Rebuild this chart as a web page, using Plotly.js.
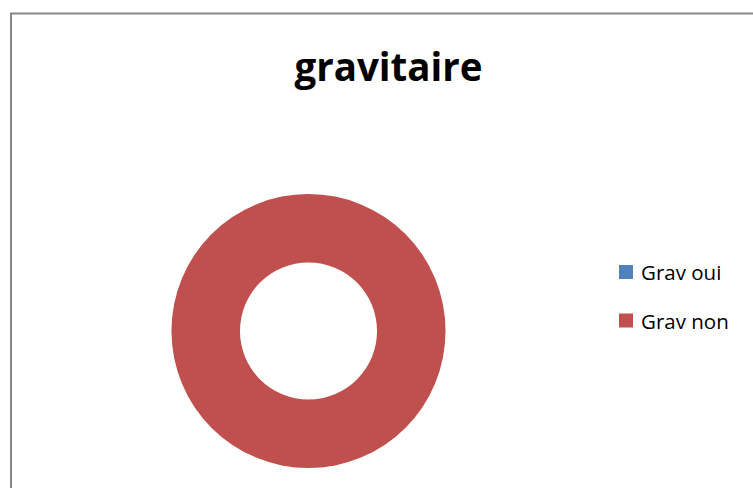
<!DOCTYPE html>
<html>
<head>
<meta charset="utf-8">
<script src="https://cdn.plot.ly/plotly-3.0.1.min.js"></script>
<style>html,body{margin:0;padding:0;background:#fff;}#chart{width:753px;height:488px;}</style>
</head>
<body>
<div id="chart"></div>
<script>
const chartTitle = "gravitaire";
const labels = ["Grav oui", "Grav non"];
const values = [0, 100];
const colors = ["#4F81BD", "#C0504D"];

const W = 753, H = 488;
// pie geometry in pixels
const cx = 308.5, cy = 331, R = 137;

const trace = {
  type: "pie",
  labels: labels,
  values: values,
  hole: 0.5,
  sort: false,
  direction: "clockwise",
  textinfo: "none",
  hoverinfo: "label+value",
  marker: {colors: colors, line: {width: 0}},
  showlegend: false,
  domain: {
    x: [(cx - R) / W, (cx + R) / W],
    y: [(H - cy - R) / H, (H - cy + R) / H]
  }
};

const shapes = [{
  type: "rect", xref: "paper", yref: "paper",
  x0: 11 / W, x1: 1.01, y0: -0.01, y1: 1 - 13.5 / H,
  line: {color: "#878787", width: 2}, fillcolor: "rgba(0,0,0,0)", layer: "below"
}];
const annotations = [];
const legendX = 619, legendTop = 272, legendGap = 48.5, sq = 14;
labels.forEach((lab, i) => {
  const yc = legendTop + i * legendGap;
  shapes.push({
    type: "rect", xref: "paper", yref: "paper",
    x0: legendX / W, x1: (legendX + sq) / W,
    y0: 1 - (yc + sq / 2) / H, y1: 1 - (yc - sq / 2) / H,
    fillcolor: colors[i], line: {width: 0}
  });
  annotations.push({
    xref: "paper", yref: "paper", x: (legendX + 20) / W, y: 1 - yc / H,
    xanchor: "left", yanchor: "middle", showarrow: false,
    text: lab, font: {family: "Open Sans, sans-serif", size: 20.5, color: "#000"}
  });
});

const layout = {
  width: W, height: H,
  margin: {l: 0, r: 0, t: 0, b: 0},
  paper_bgcolor: "#fff",
  title: {
    text: "<b>" + chartTitle + "</b>",
    x: 388.5 / W, xanchor: "center",
    y: 1 - 68 / H, yanchor: "middle",
    font: {family: "Open Sans, sans-serif", size: 38.5, color: "#000"}
  },
  showlegend: false,
  shapes: shapes,
  annotations: annotations
};

Plotly.newPlot("chart", [trace], layout, {displayModeBar: false, staticPlot: true});
</script>
</body>
</html>
